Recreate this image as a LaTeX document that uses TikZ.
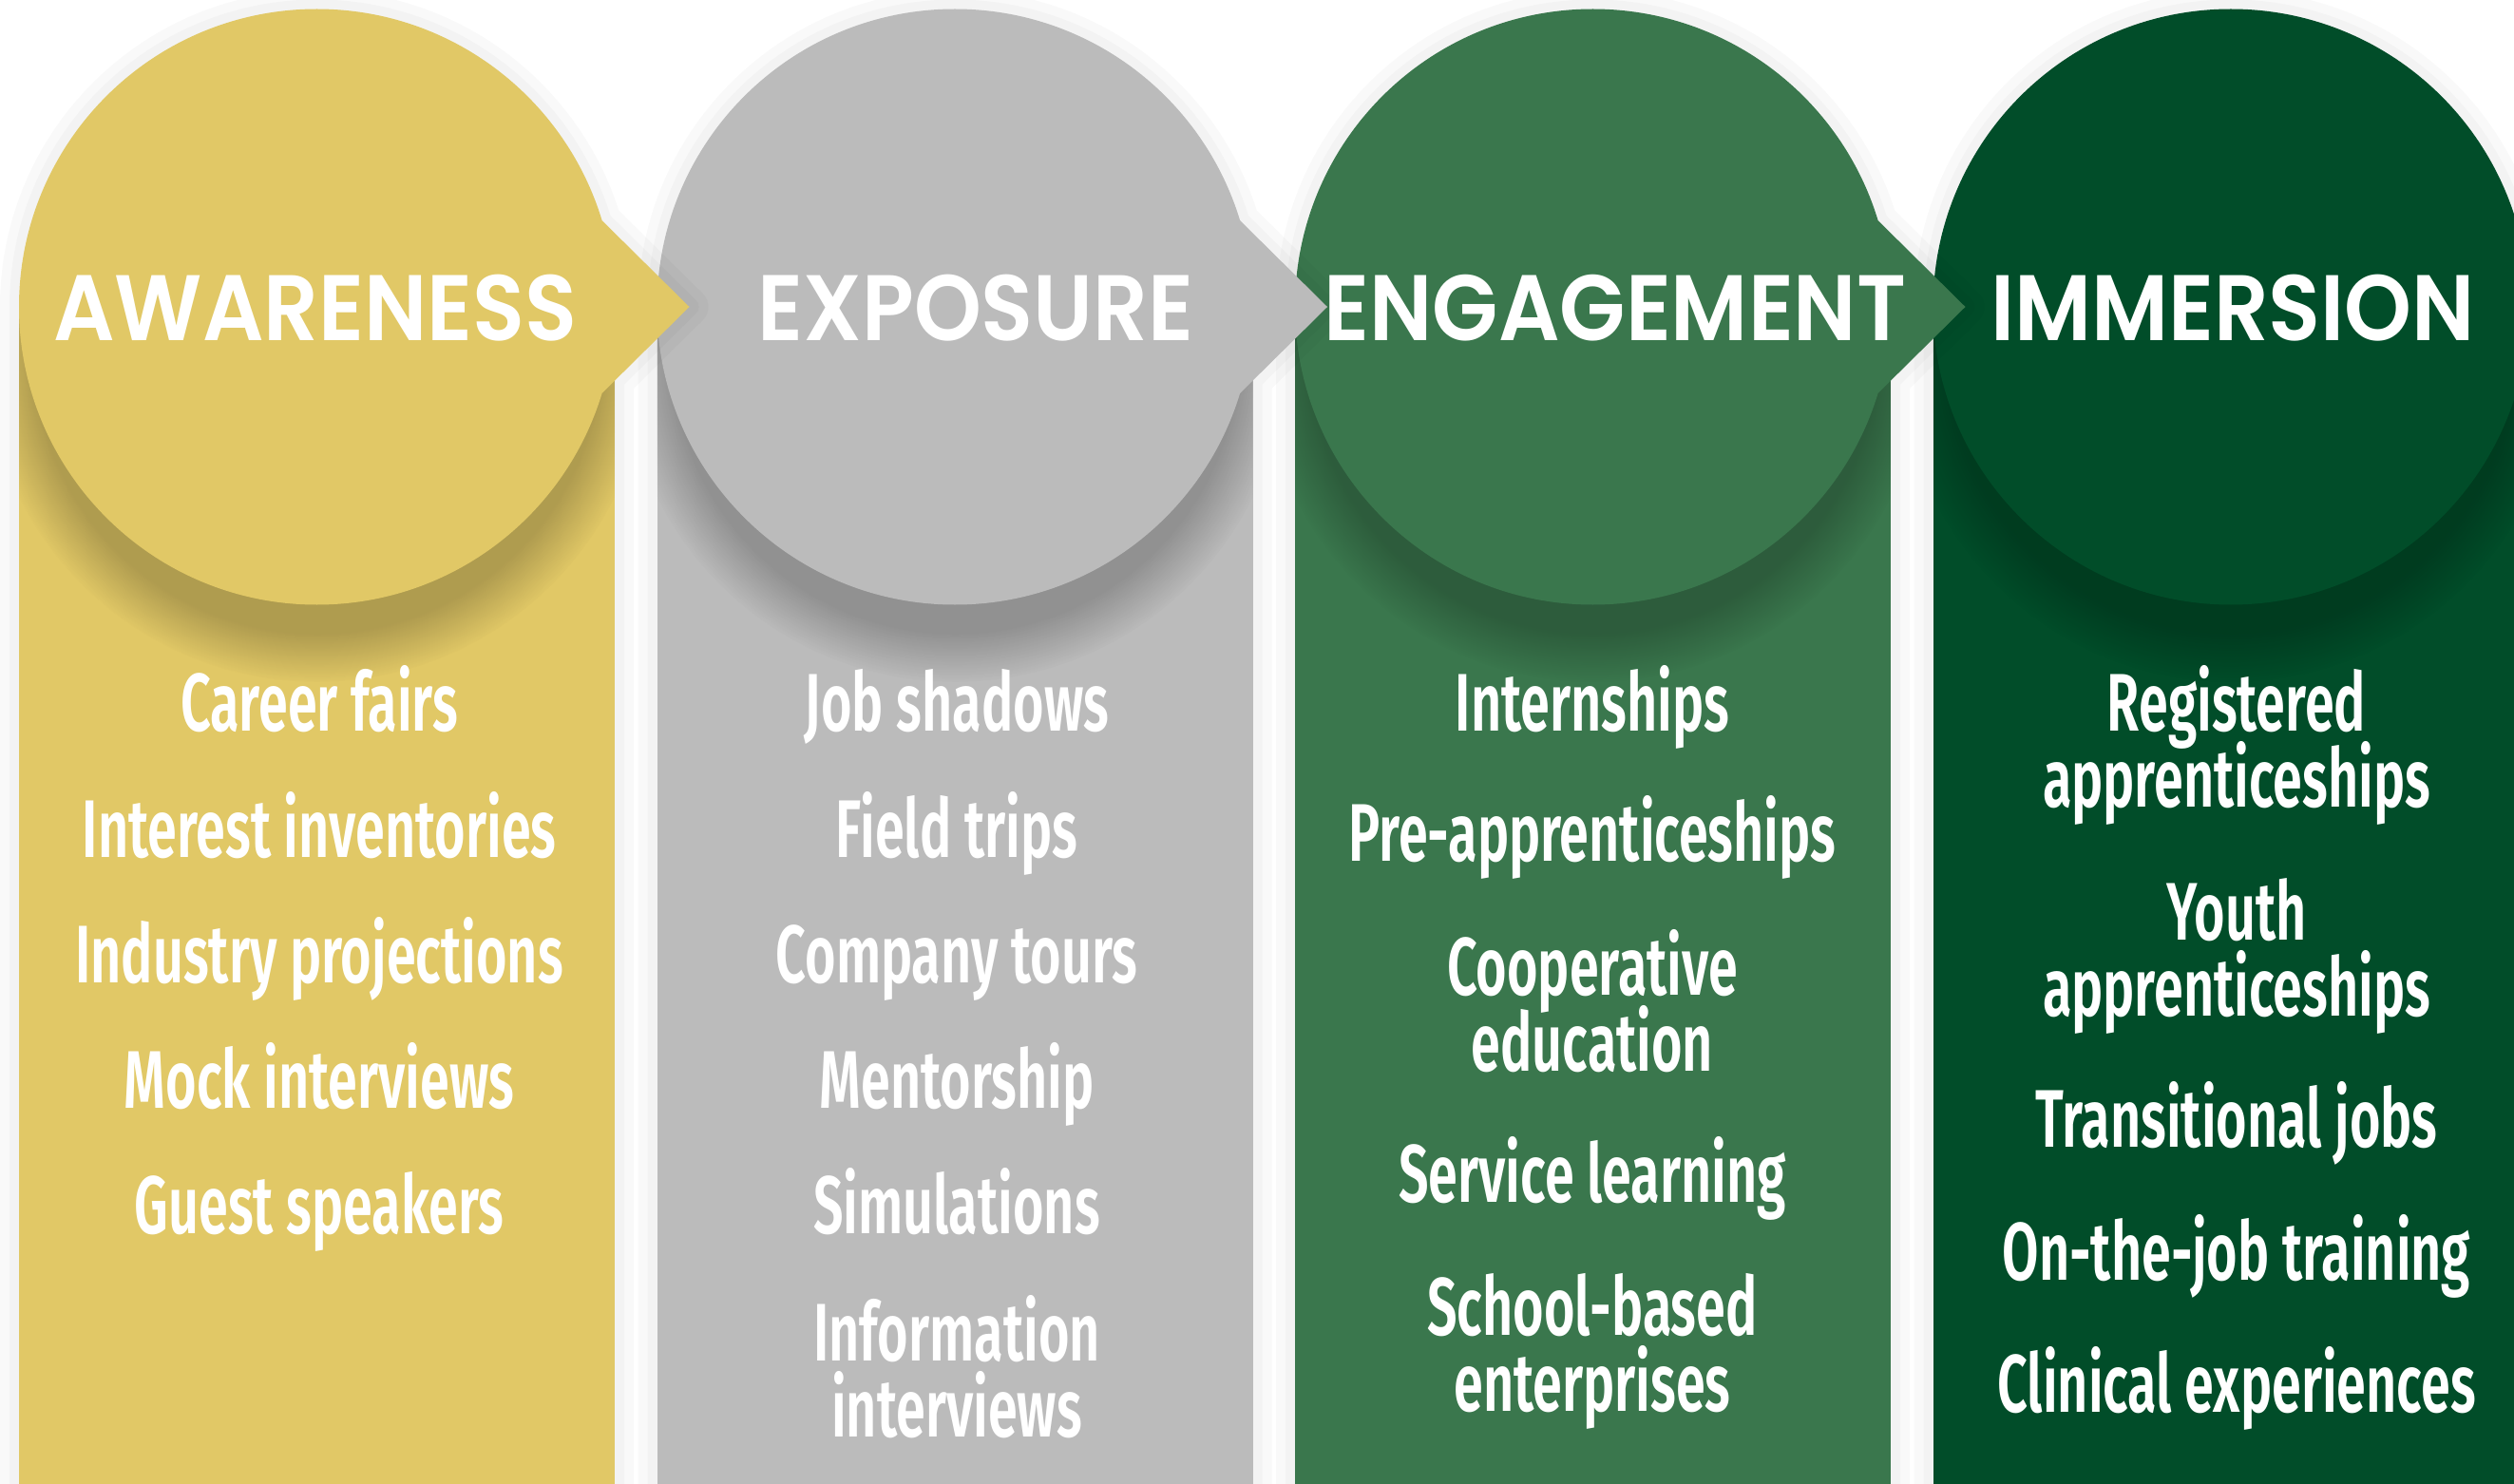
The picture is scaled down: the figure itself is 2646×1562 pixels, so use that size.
\documentclass[tikz,border=0pt]{standalone}
\usepackage{fontspec}
\usepackage{xcolor}
\usetikzlibrary{fadings}
% lighter faces when they are there, bold otherwise
\IfFontExistsTF{Poppins SemiBold}
  {\newfontfamily\stagefont{Poppins SemiBold}[FakeStretch=0.92]}
  {\newfontfamily\stagefontplain{Poppins}[FakeStretch=0.88]\def\stagefont{\stagefontplain\bfseries}}
\IfFontExistsTF{Fira Sans SemiBold}
  {\newfontfamily\activityfont{Fira Sans SemiBold}[FakeStretch=0.648]}
  {\newfontfamily\activityfontplain{Fira Sans}[FakeStretch=0.645]\def\activityfont{\activityfontplain\bfseries}}
\newcommand\activitytype{\activityfont\fontsize{43}{40}\selectfont\lineskiplimit=-50pt\relax}
\definecolor{awareness}{HTML}{E1C866}
\definecolor{exposure}{HTML}{BBBBBB}
\definecolor{engagement}{HTML}{3A774D}
\definecolor{immersion}{HTML}{014D29}

\tikzset{
  stage/.style={text=white, anchor=base, inner sep=0pt,
    font=\stagefont\fontsize{49}{49}\selectfont},
  activity/.style={text=white, anchor=base, align=center, inner sep=0pt,
    font=\activitytype},
  undershadow/.style={fill=black, fill opacity=0.22,
    path fading=circle with fuzzy edge 15 percent},
  halo/.style={draw=black, draw opacity=0.025, line width=#1, line join=round},
}

\begin{document}
\begin{tikzpicture}[x=0.5pt, y=-0.5pt]

  % ---------- Canvas ----------
  \useasboundingbox (0,0) rectangle (2646,1562);
  \clip (0,0) rectangle (2646,1562);
  \fill[white] (0,0) rectangle (2646,1562);

  % ---------- Immersion ----------
  \draw[halo=20pt] (2034.5,323) rectangle (2661.5,1600) (2348,323) circle (313.5);
  \draw[halo=10pt] (2034.5,323) rectangle (2661.5,1600) (2348,323) circle (313.5);
  \fill[immersion] (2034.5,323) rectangle (2661.5,1600);
  \begin{scope}
    \clip (2034.5,323) rectangle (2661.5,1600);
    \fill[undershadow] (2348,368) circle (350);
  \end{scope}
  \fill[immersion] (2348,323) circle (313.5);

  % ---------- Engagement ----------
  \draw[halo=20pt] (1363,323) rectangle (1990,1600) (1676.5,323) circle (313.5)
    (1976.5,232) -- (2068.5,323) -- (1976.5,414);
  \draw[halo=10pt] (1363,323) rectangle (1990,1600) (1676.5,323) circle (313.5)
    (1976.5,232) -- (2068.5,323) -- (1976.5,414);
  \fill[engagement] (1363,323) rectangle (1990,1600);
  \begin{scope}
    \clip (1363,323) rectangle (1990,1600);
    \fill[undershadow] (1676.5,368) circle (350);
  \end{scope}
  \fill[engagement] (1676.5,323) circle (313.5);
  \fill[engagement] (1976.5,232) -- (2068.5,323) -- (1976.5,414) -- cycle;

  % ---------- Exposure ----------
  \draw[halo=20pt] (691.5,323) rectangle (1318.5,1600) (1005,323) circle (313.5)
    (1305,232) -- (1397,323) -- (1305,414);
  \draw[halo=10pt] (691.5,323) rectangle (1318.5,1600) (1005,323) circle (313.5)
    (1305,232) -- (1397,323) -- (1305,414);
  \fill[exposure] (691.5,323) rectangle (1318.5,1600);
  \begin{scope}
    \clip (691.5,323) rectangle (1318.5,1600);
    \fill[undershadow] (1005,368) circle (350);
  \end{scope}
  \fill[exposure] (1005,323) circle (313.5);
  \fill[exposure] (1305,232) -- (1397,323) -- (1305,414) -- cycle;

  % ---------- Awareness ----------
  \draw[halo=20pt] (20,323) rectangle (647,1600) (333.5,323) circle (313.5)
    (633.5,232) -- (725.5,323) -- (633.5,414);
  \draw[halo=10pt] (20,323) rectangle (647,1600) (333.5,323) circle (313.5)
    (633.5,232) -- (725.5,323) -- (633.5,414);
  \fill[awareness] (20,323) rectangle (647,1600);
  \begin{scope}
    \clip (20,323) rectangle (647,1600);
    \fill[undershadow] (333.5,368) circle (350);
  \end{scope}
  \fill[awareness] (333.5,323) circle (313.5);
  \fill[awareness] (633.5,232) -- (725.5,323) -- (633.5,414) -- cycle;

  % ---------- Titles ----------
  \node[stage] at (332,358) (awTitle) {AWARENESS};
  \node[stage] at (1027,358) (exTitle) {EXPOSURE};
  \node[stage] at (1700,358) (enTitle) {ENGAGEMENT};
  \node[stage] at (2350,358) (imTitle) {IMMERSION};

  % ---------- Activities ----------
  % (two-line entries sit on the baseline of their last line)
  \node[activity] at (336,769) (aw1) {Career fairs};
  \node[activity] at (336,902) (aw2) {Interest inventories};
  \node[activity] at (336,1034) (aw3) {Industry projections};
  \node[activity] at (336,1166) (aw4) {Mock interviews};
  \node[activity] at (336,1298) (aw5) {Guest speakers};

  \node[activity] at (1007,769) (ex1) {Job shadows};
  \node[activity] at (1007,902) (ex2) {Field trips};
  \node[activity] at (1007,1034) (ex3) {Company tours};
  \node[activity] at (1007,1166) (ex4) {Mentorship};
  \node[activity] at (1007,1298) (ex5) {Simulations};
  \node[activity] at (1007,1512) (ex6) {Information\\interviews};

  \node[activity] at (1676,769) (en1) {Internships};
  \node[activity] at (1676,906) (en2) {Pre-apprenticeships};
  \node[activity] at (1676,1127) (en3) {Cooperative\\education};
  \node[activity] at (1676,1265) (en4) {Service learning};
  \node[activity] at (1676,1485) (en5) {School-based\\enterprises};

  \node[activity] at (2354,849) (im1) {Registered\\apprenticeships};
  \node[activity] at (2354,1069) (im2) {Youth\\apprenticeships};
  \node[activity] at (2354,1207) (im3) {Transitional jobs};
  \node[activity] at (2354,1347) (im4) {On-the-job training};
  \node[activity] at (2354,1486) (im5) {Clinical experiences};

\end{tikzpicture}
\end{document}
